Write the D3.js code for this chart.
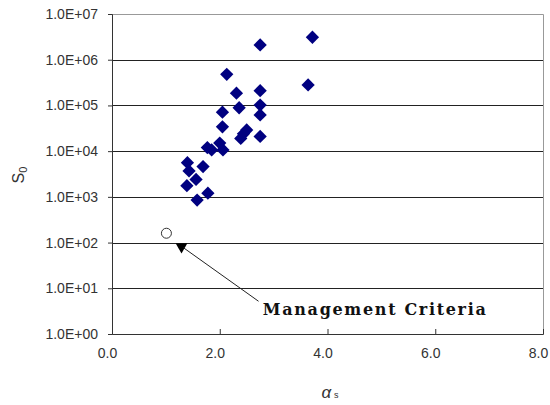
<!DOCTYPE html>
<html>
<head>
<meta charset="utf-8">
<script src="https://cdn.jsdelivr.net/npm/d3@7"></script>
<style>
  body { margin: 0; background: #fff; }
  svg { display: block; }
</style>
</head>
<body>
<div id="chart"></div>
<script>
// measured cases (alpha_s, S0)
const alphaS = [3.72, 2.75, 2.13, 3.64, 2.31, 2.75, 2.36, 2.75, 2.05, 2.75, 2.05, 2.50, 2.44, 2.39, 2.75,
                1.77, 1.85, 2.00, 2.06, 1.40, 1.69, 1.43, 1.56, 1.39, 1.78, 1.58];
const s0 = [3.1e6, 2.1e6, 4.8e5, 2.8e5, 1.85e5, 2.1e5, 8.9e4, 1.02e5, 7.1e4, 6.2e4, 3.4e4, 2.9e4, 2.4e4, 1.9e4, 2.1e4,
            1.2e4, 1.06e4, 1.5e4, 1.06e4, 5.6e3, 4.6e3, 3.7e3, 2.4e3, 1.76e3, 1.2e3, 850];
// open circle case
const openPoint = [1.01, 160];
// management criteria
const criteriaPoint = [1.29, 81];
const xTicks = [0, 2, 4, 6, 8];
const yTicks = [1e0, 1e1, 1e2, 1e3, 1e4, 1e5, 1e6, 1e7];

const W = 550, H = 405;
const margin = { top: 14, right: 7, bottom: 71, left: 112 };
const width = W - margin.left - margin.right;
const height = H - margin.top - margin.bottom;

const svgRoot = d3.select("#chart").append("svg")
  .attr("width", W)
  .attr("height", H);

const svg = svgRoot.append("g")
  .attr("transform", `translate(${margin.left},${margin.top})`);

const x = d3.scaleLinear().domain([0, 8]).range([0, width]);
const y = d3.scaleLog().domain([1, 1e7]).range([height, 0]);

const labelFont = "'Liberation Sans', Arial, sans-serif";

// grid lines
svg.append("g")
  .selectAll("line")
  .data(yTicks.slice(1, -1))
  .enter()
  .append("line")
  .attr("x1", 0)
  .attr("x2", width)
  .attr("y1", d => Math.round(y(d)) + 0.5)
  .attr("y2", d => Math.round(y(d)) + 0.5)
  .attr("stroke", "#222")
  .attr("stroke-width", 1);

// top & right border
svg.append("path")
  .attr("d", `M0,0.5H${width + 0.5}V${height}`)
  .attr("fill", "none")
  .attr("stroke", "#999")
  .attr("stroke-width", 1);

// y axis
const yAxis = svg.append("g")
  .call(d3.axisLeft(y).tickValues(yTicks).tickSize(4).tickPadding(10)
    .tickFormat(d => "1.0E+" + String(Math.round(Math.log10(d))).padStart(2, "0")));
yAxis.select(".domain").attr("stroke", "#333");
yAxis.selectAll(".tick line").attr("stroke", "#333");
yAxis.selectAll("text")
  .attr("font-family", labelFont)
  .attr("font-size", 14)
  .attr("fill", "#333");

// x axis, ticks point inward
const xAxis = svg.append("g")
  .attr("transform", `translate(0,${height})`)
  .call(d3.axisBottom(x).tickValues(xTicks).tickSize(-5).tickPadding(14)
    .tickFormat(d3.format(".1f")));
xAxis.select(".domain").attr("stroke", "#333");
xAxis.selectAll(".tick line").attr("stroke", "#333");
xAxis.selectAll("text")
  .attr("dx", -5)
  .attr("font-family", labelFont)
  .attr("font-size", 14)
  .attr("fill", "#333");

// axis titles
svgRoot.append("text")
  .attr("x", 330)
  .attr("y", 398)
  .attr("text-anchor", "middle")
  .attr("font-family", labelFont)
  .attr("fill", "#333")
  .call(t => {
    t.append("tspan").attr("font-size", 17).attr("font-style", "italic").text("α");
    t.append("tspan").attr("font-size", 9).attr("dx", 3).text("s");
  });

svgRoot.append("text")
  .attr("transform", "translate(24,175) rotate(-90)")
  .attr("text-anchor", "middle")
  .attr("font-family", labelFont)
  .attr("fill", "#333")
  .call(t => {
    t.append("tspan").attr("font-size", 16).text("S");
    t.append("tspan").attr("font-size", 11).attr("dy", 3).text("0");
  });

// data diamonds
const pts = alphaS.map((a, i) => ({ a, s: s0[i] }));
svg.append("g")
  .selectAll("path")
  .data(pts)
  .enter()
  .append("path")
  .attr("d", d3.symbol(d3.symbolSquare, 88))
  .attr("transform", d => `translate(${x(d.a)},${y(d.s)}) rotate(45)`)
  .attr("fill", "#000080");

// open circle
svg.append("circle")
  .attr("cx", x(openPoint[0]))
  .attr("cy", y(openPoint[1]))
  .attr("r", 5)
  .attr("fill", "#fff")
  .attr("stroke", "#333")
  .attr("stroke-width", 1);

// management criteria triangle
const cx = x(criteriaPoint[0]), cy = y(criteriaPoint[1]);
svg.append("path")
  .attr("d", d3.symbol(d3.symbolTriangle, 60))
  .attr("transform", `translate(${cx},${cy}) rotate(180)`)
  .attr("fill", "#000");

// arrow line to label
svg.append("line")
  .attr("x1", cx + 2)
  .attr("y1", cy + 1)
  .attr("x2", x(2.72))
  .attr("y2", y(5.2))
  .attr("stroke", "#222")
  .attr("stroke-width", 1);

svg.append("text")
  .attr("x", x(2.8))
  .attr("y", y(2.6))
  .attr("font-family", "'DejaVu Serif', 'Liberation Serif', serif")
  .attr("font-weight", "bold")
  .attr("font-size", 16)
  .attr("textLength", 223)
  .attr("lengthAdjust", "spacing")
  .attr("fill", "#111")
  .text("Management Criteria");
</script>
</body>
</html>
